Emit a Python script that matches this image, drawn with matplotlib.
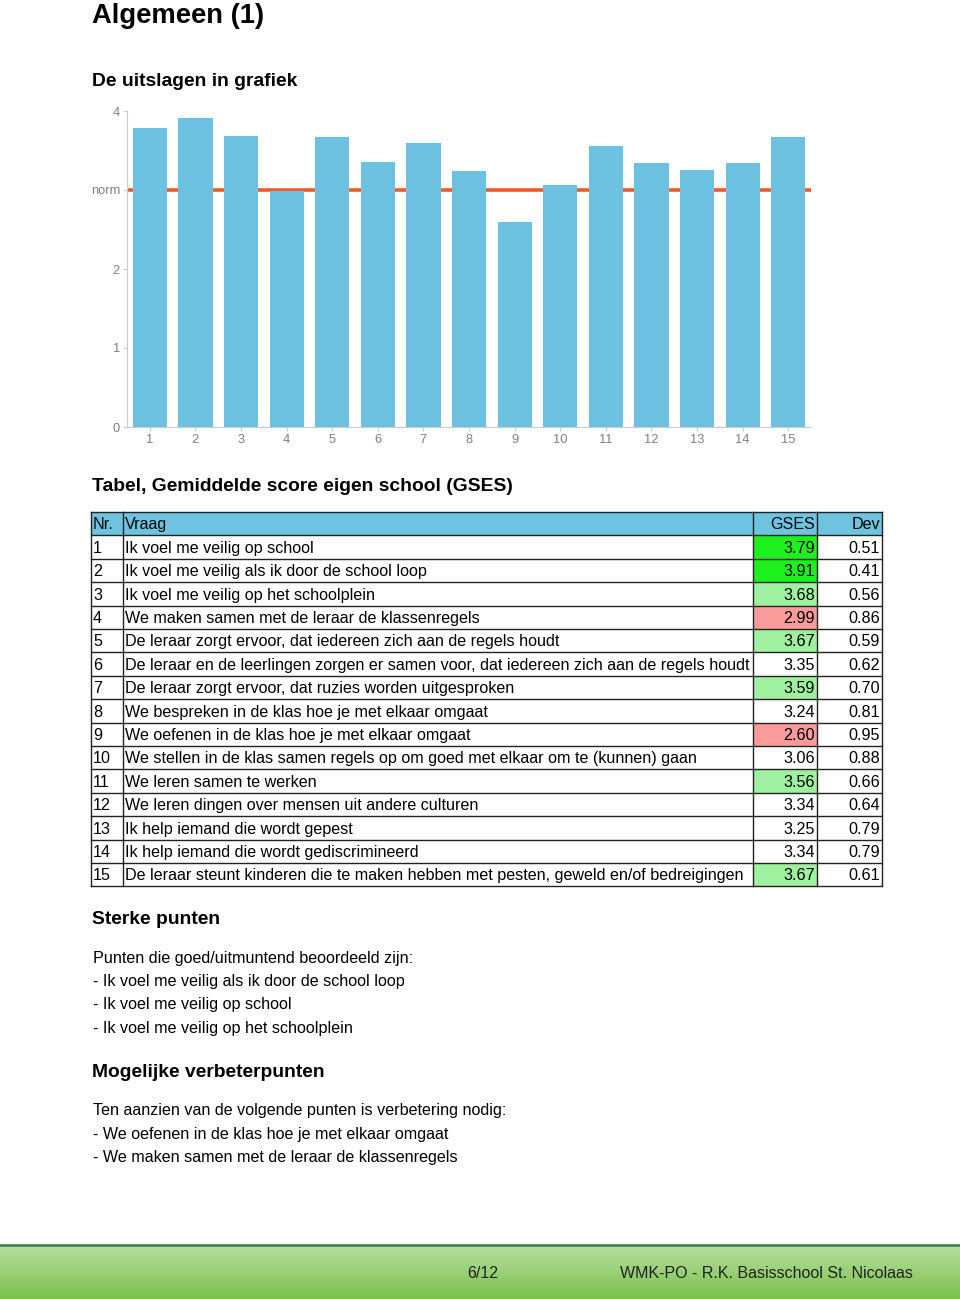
import numpy as np
import matplotlib
matplotlib.use("Agg")
import matplotlib.pyplot as plt
from matplotlib.patches import Rectangle

plt.rcParams['font.family'] = ['Liberation Sans', 'DejaVu Sans']

# data
nrs = list(range(1, 16))
vragen = [
    "Ik voel me veilig op school",
    "Ik voel me veilig als ik door de school loop",
    "Ik voel me veilig op het schoolplein",
    "We maken samen met de leraar de klassenregels",
    "De leraar zorgt ervoor, dat iedereen zich aan de regels houdt",
    "De leraar en de leerlingen zorgen er samen voor, dat iedereen zich aan de regels houdt",
    "De leraar zorgt ervoor, dat ruzies worden uitgesproken",
    "We bespreken in de klas hoe je met elkaar omgaat",
    "We oefenen in de klas hoe je met elkaar omgaat",
    "We stellen in de klas samen regels op om goed met elkaar om te (kunnen) gaan",
    "We leren samen te werken",
    "We leren dingen over mensen uit andere culturen",
    "Ik help iemand die wordt gepest",
    "Ik help iemand die wordt gediscrimineerd",
    "De leraar steunt kinderen die te maken hebben met pesten, geweld en/of bedreigingen",
]
gses = [3.79, 3.91, 3.68, 2.99, 3.67, 3.35, 3.59, 3.24, 2.60, 3.06, 3.56, 3.34, 3.25, 3.34, 3.67]
dev = [0.51, 0.41, 0.56, 0.86, 0.59, 0.62, 0.70, 0.81, 0.95, 0.88, 0.66, 0.64, 0.79, 0.79, 0.61]
# cell colour category: 2 = excellent, 1 = good, -1 = poor, 0 = neutral
klasse = [2, 2, 1, -1, 1, 0, 1, 0, -1, 0, 1, 0, 0, 0, 1]
norm = 3.0

sterk = ["Ik voel me veilig als ik door de school loop",
         "Ik voel me veilig op school",
         "Ik voel me veilig op het schoolplein"]
verbeter = ["We oefenen in de klas hoe je met elkaar omgaat",
            "We maken samen met de leraar de klassenregels"]

W, H = 960, 1299
fig = plt.figure(figsize=(W / 100, H / 100), dpi=100)

# full-page axes in pixel coordinates
page = fig.add_axes([0, 0, 1, 1])
page.set_xlim(0, W)
page.set_ylim(H, 0)
page.axis('off')

hfs = 13.9
page.text(92, 16, "Algemeen (1)", fontsize=19.7, fontweight='bold', va='center')
page.text(92, 81.5, "De uitslagen in grafiek", fontsize=hfs, fontweight='bold', va='center')
page.text(92, 486.5, "Tabel, Gemiddelde score eigen school (GSES)", fontsize=hfs, fontweight='bold', va='center')

# bar chart
ax = fig.add_axes([127 / W, 1 - 427 / H, (811 - 127) / W, (427 - 111) / H])
bar_col = '#6cc0e0'
ax.axhline(norm, color='#f05a28', lw=2.6, zorder=1)
ax.bar(nrs, gses, width=0.75, color=bar_col, zorder=2)
ax.set_xlim(0.5, 15.5)
ax.set_ylim(0, 4)
ax.set_xticks(nrs)
ax.set_yticks([0, 1, 2, 3, 4])
ax.set_yticklabels(['0', '1', '2', 'norm', '4'])
for s in ['top', 'right']:
    ax.spines[s].set_visible(False)
for s in ['left', 'bottom']:
    ax.spines[s].set_color('#cccccc')
    ax.spines[s].set_linewidth(0.8)
ax.tick_params(colors='#cccccc', labelcolor='#808080', labelsize=9.3, length=3, width=0.8, pad=2)

# table
x_cols = [91, 123, 753, 817, 882]
top, row_h = 512, 23.4
head_col = '#6ec3e0'
fill = {2: '#1ef01e', 1: '#9ff09f', -1: '#f99b9b', 0: 'white'}
fs = 11.65
dy = 1.2  # small downward text offset inside cells

page.add_patch(Rectangle((x_cols[0], top), x_cols[-1] - x_cols[0], row_h,
                         facecolor=head_col, edgecolor='none'))
page.text(x_cols[0] + 2, top + row_h / 2 + dy, "Nr.", fontsize=fs, va='center')
page.text(x_cols[1] + 2, top + row_h / 2 + dy, "Vraag", fontsize=fs, va='center')
page.text(x_cols[3] - 2, top + row_h / 2 + dy, "GSES", fontsize=fs, va='center', ha='right')
page.text(x_cols[4] - 2, top + row_h / 2 + dy, "Dev", fontsize=fs, va='center', ha='right')

for i, (n, q, g, d, k) in enumerate(zip(nrs, vragen, gses, dev, klasse)):
    y0 = top + (i + 1) * row_h
    yc = y0 + row_h / 2 + dy
    page.add_patch(Rectangle((x_cols[2], y0), x_cols[3] - x_cols[2], row_h,
                             facecolor=fill[k], edgecolor='none'))
    page.text(x_cols[0] + 2, yc, str(n), fontsize=fs, va='center')
    page.text(x_cols[1] + 2, yc, q, fontsize=fs, va='center')
    page.text(x_cols[3] - 2, yc, f"{g:.2f}", fontsize=fs, va='center', ha='right')
    page.text(x_cols[4] - 2, yc, f"{d:.2f}", fontsize=fs, va='center', ha='right')

n_rows = len(nrs) + 1
bottom = top + n_rows * row_h
for r in range(n_rows + 1):
    page.plot([x_cols[0], x_cols[-1]], [top + r * row_h] * 2, color='#222222', lw=1.0)
for xc in x_cols:
    page.plot([xc, xc], [top, bottom], color='#222222', lw=1.0)

# text sections
page.text(92, 919.5, "Sterke punten", fontsize=hfs, fontweight='bold', va='center')
page.text(93, 958, "Punten die goed/uitmuntend beoordeeld zijn:", fontsize=fs, va='center')
for j, t in enumerate(sterk):
    page.text(93, 981 + j * 23.5, "- " + t, fontsize=fs, va='center')

page.text(92, 1072.5, "Mogelijke verbeterpunten", fontsize=hfs, fontweight='bold', va='center')
page.text(93, 1110, "Ten aanzien van de volgende punten is verbetering nodig:", fontsize=fs, va='center')
for j, t in enumerate(verbeter):
    page.text(93, 1134 + j * 23.8, "- " + t, fontsize=fs, va='center')

# footer gradient
grad = np.linspace(0, 1, 100).reshape(-1, 1)
c_top = np.array([0.72, 0.87, 0.63])
c_bot = np.array([0.48, 0.76, 0.30])
img = c_top[None, None, :] * (1 - grad[:, :, None]) + c_bot[None, None, :] * grad[:, :, None]
page.imshow(img, extent=[0, W, H, 1245], aspect='auto', zorder=0)
page.plot([0, W], [1245, 1245], color='#3d8a55', lw=2)
page.text(483, 1273, "6/12", fontsize=11.5, ha='center', va='center', color='#222222')
page.text(913, 1273, "WMK-PO - R.K. Basisschool St. Nicolaas", fontsize=11.5, ha='right', va='center', color='#222222')
page.set_xlim(0, W)
page.set_ylim(H, 0)

fig.savefig("out.png", dpi=100)
